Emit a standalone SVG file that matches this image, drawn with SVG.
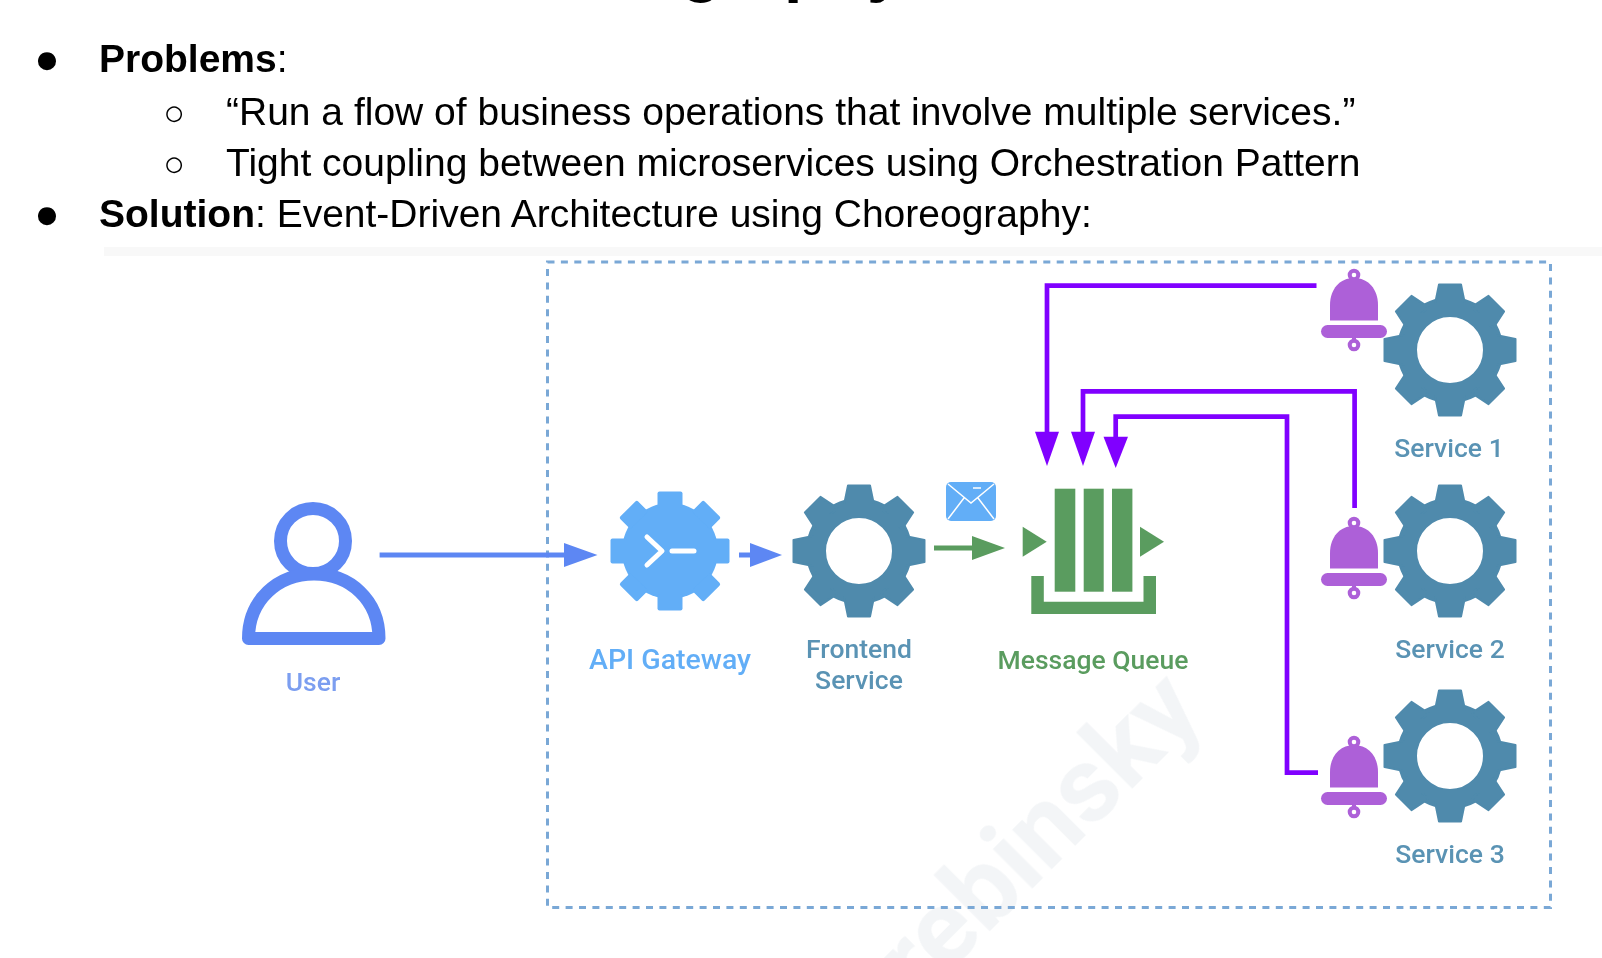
<svg xmlns="http://www.w3.org/2000/svg" xmlns:xlink="http://www.w3.org/1999/xlink" width="1602" height="958" viewBox="0 0 1602 958">
<style>
text{font-family:"Liberation Sans",Arial,sans-serif}
.t{font-size:39px;fill:#000}
.b{font-weight:700}
.big{font-size:42px;text-anchor:middle}
.small{font-size:36px;text-anchor:middle}
.lab{font-family:Roboto,"Liberation Sans",sans-serif;font-weight:500;font-size:26.5px;text-anchor:middle}
.wm{font-family:Roboto,"Liberation Sans",sans-serif;font-weight:700;font-size:106px;fill:#f3f5f7}
.gr{fill:#4f8aac;stroke:#4f8aac}
.bell{fill:#ad60d8}
.pl{fill:none;stroke:#8000ff;stroke-width:4.7;stroke-linejoin:miter}
.ph{fill:#8000ff}
.bl{fill:#5d87f3}
.ga{fill:#5a9c5e}
</style>
<defs>
<filter id="soft" x="-2%" y="-2%" width="104%" height="104%"><feGaussianBlur stdDeviation="0.6"/></filter>
<filter id="softer" x="-2%" y="-2%" width="104%" height="104%"><feGaussianBlur stdDeviation="0.35"/></filter>
<g id="tooth"><path d="M-15 -46 L-11 -65.5 H11 L15 -46 Z" stroke-width="2" stroke-linejoin="round"/></g>
<g id="gear">
<circle r="43" fill="none" stroke="#4f8aac" stroke-width="20"/>
<use xlink:href="#tooth" class="gr"/>
<use xlink:href="#tooth" class="gr" transform="rotate(45)"/>
<use xlink:href="#tooth" class="gr" transform="rotate(90)"/>
<use xlink:href="#tooth" class="gr" transform="rotate(135)"/>
<use xlink:href="#tooth" class="gr" transform="rotate(180)"/>
<use xlink:href="#tooth" class="gr" transform="rotate(225)"/>
<use xlink:href="#tooth" class="gr" transform="rotate(270)"/>
<use xlink:href="#tooth" class="gr" transform="rotate(315)"/>
</g>
<g id="bellshape">
<circle cx="0" cy="0" r="4.3" fill="none" stroke="#ad60d8" stroke-width="4"/>
<path class="bell" d="M-24 45.5 V30 C-24 14 -14 3 0 3 C14 3 24 14 24 30 V45.5 Z"/>
<rect class="bell" x="-33" y="50" width="66" height="13" rx="6.5"/>
<circle cx="0" cy="70" r="4.3" fill="none" stroke="#ad60d8" stroke-width="4"/>
<rect class="bell" x="-2" y="62" width="4" height="4"/>
</g>
</defs>

<rect width="1602" height="958" fill="#fff"/>
<rect x="104" y="247" width="1498" height="9" fill="#f8f8f8"/>

<g id="slide-text" filter="url(#softer)">
<text class="t b" y="-11" style="font-size:66px"><tspan x="681">g</tspan><tspan x="784">p</tspan><tspan x="867">y</tspan></text>
<text class="big" x="47" y="73">●</text>
<text class="t" x="99" y="72"><tspan class="b">Problems</tspan>:</text>
<text class="small" x="174" y="125">○</text>
<text class="t" x="226" y="125">“Run a flow of business operations that involve multiple services.”</text>
<text class="small" x="174" y="176">○</text>
<text class="t" x="226" y="176">Tight coupling between microservices using Orchestration Pattern</text>
<text class="big" x="47" y="228">●</text>
<text class="t" x="99" y="227"><tspan class="b">Solution</tspan>: Event-Driven Architecture using Choreography:</text>
</g>

<text class="wm" x="1206" y="715" text-anchor="end" transform="rotate(-45 1206 715)" filter="url(#soft)">rebinsky</text>

<g filter="url(#soft)">
<g id="boundary"><rect x="547.5" y="262" width="1003" height="645.5" fill="none" stroke="#7aa8d6" stroke-width="3" stroke-dasharray="7 6.4"/></g>

<g id="connectors">
<path d="M379.6 555H566" fill="none" stroke="#5d87f3" stroke-width="5"/>
<path class="bl" d="M564 543L597.5 555L564 567Z"/>
<path d="M739 555H752" fill="none" stroke="#5d87f3" stroke-width="5"/>
<path class="bl" d="M750 543L782 555L750 567Z"/>
<path d="M934 548H974" fill="none" stroke="#5a9c5e" stroke-width="5"/>
<path class="ga" d="M972 536L1005 548L972 560Z"/>
<path class="pl" d="M1316.5 285.7H1047V433"/>
<path class="ph" d="M1035 431.7H1059L1047 466Z"/>
<path class="pl" d="M1354.6 508V391.3H1083V433"/>
<path class="ph" d="M1071 431.7H1095L1083 466Z"/>
<path class="pl" d="M1318 772.7H1287V416.7H1115.7V438"/>
<path class="ph" d="M1103.5 436.7H1128L1115.7 468Z"/>
</g>

<g id="user">
<circle cx="313" cy="541" r="32.5" fill="none" stroke="#5d87f3" stroke-width="13"/>
<path d="M248.5 638.5C248.5 600 278 574 314 574C350 574 379 600 379 638.5Z" fill="#fff" stroke="#5d87f3" stroke-width="13" stroke-linejoin="round"/>
<text class="lab" x="313" y="691" fill="#7b9ef0">User</text>
</g>

<g id="api-gateway" transform="translate(670 551)">
<circle r="48" fill="#62aef7"/>
<g fill="#62aef7">
<rect x="-12.5" y="-59.5" width="25" height="16" rx="2"/>
<rect x="-12.5" y="-59.5" width="25" height="16" rx="2" transform="rotate(45)"/>
<rect x="-12.5" y="-59.5" width="25" height="16" rx="2" transform="rotate(90)"/>
<rect x="-12.5" y="-59.5" width="25" height="16" rx="2" transform="rotate(135)"/>
<rect x="-12.5" y="-59.5" width="25" height="16" rx="2" transform="rotate(180)"/>
<rect x="-12.5" y="-59.5" width="25" height="16" rx="2" transform="rotate(225)"/>
<rect x="-12.5" y="-59.5" width="25" height="16" rx="2" transform="rotate(270)"/>
<rect x="-12.5" y="-59.5" width="25" height="16" rx="2" transform="rotate(315)"/>
</g>
<path d="M-23 -14L-8 0L-23 14" fill="none" stroke="#fff" stroke-width="5" stroke-linecap="round" stroke-linejoin="round"/>
<path d="M2 0H24" fill="none" stroke="#fff" stroke-width="5" stroke-linecap="round"/>
<text class="lab" x="0" y="118" fill="#62aef7" style="font-size:28.5px">API Gateway</text>
</g>

<g id="frontend-service">
<use xlink:href="#gear" x="859" y="551"/>
<text class="lab" x="859" y="658" fill="#5a93b4">Frontend</text>
<text class="lab" x="859" y="689" fill="#5a93b4">Service</text>
</g>

<g id="envelope">
<rect x="946" y="482" width="50" height="39" rx="5" fill="#62aef7"/>
<path d="M948 484L971 503L994 484M948 519L964 498M994 519L978 498M973 488H981" fill="none" stroke="#fff" stroke-width="1.5"/>
</g>

<g id="message-queue" fill="#5a9c5e">
<rect x="1054.7" y="488.7" width="20.6" height="103"/>
<rect x="1083.7" y="488.7" width="20" height="103"/>
<rect x="1112" y="488.7" width="20.4" height="103"/>
<path d="M1031.3 576H1043.8V601.7H1143.5V576H1156V614H1031.3Z"/>
<path d="M1022.7 526.7L1046.7 541.7L1022.7 556.7Z"/>
<path d="M1140 526.7L1164 541.7L1140 556.7Z"/>
<text class="lab" x="1093" y="669">Message Queue</text>
</g>

<g id="service-1">
<use xlink:href="#bellshape" x="1354" y="275"/>
<use xlink:href="#gear" x="1450" y="350"/>
<text class="lab" x="1449" y="457" fill="#5a93b4">Service 1</text>
</g>
<g id="service-2">
<use xlink:href="#bellshape" x="1354" y="523"/>
<use xlink:href="#gear" x="1450" y="551"/>
<text class="lab" x="1450" y="658" fill="#5a93b4">Service 2</text>
</g>
<g id="service-3">
<use xlink:href="#bellshape" x="1354" y="742"/>
<use xlink:href="#gear" x="1450" y="756"/>
<text class="lab" x="1450" y="863" fill="#5a93b4">Service 3</text>
</g>
</g>
</svg>
